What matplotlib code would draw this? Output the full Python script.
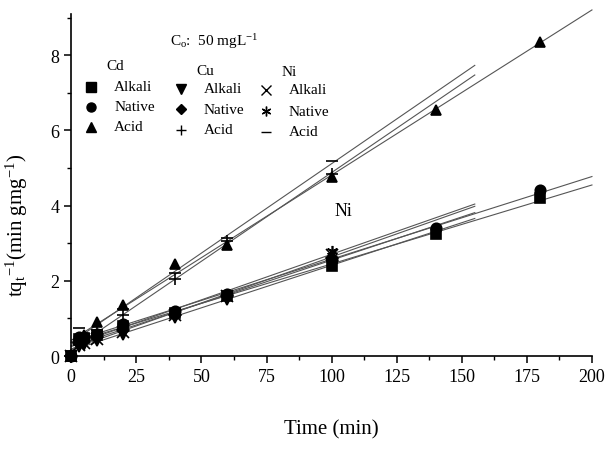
import numpy as np
import matplotlib
matplotlib.use("Agg")
import matplotlib.pyplot as plt
from matplotlib.ticker import MultipleLocator

plt.rcParams['font.family'] = ['Liberation Serif', 'DejaVu Serif']
plt.rcParams['mathtext.default'] = 'regular'

# time points (min)
t_cd = [0, 3, 5, 10, 20, 40, 60, 100, 140, 180]
t_cu_ni = [0, 3, 5, 10, 20, 40, 60, 100]

# t/qt values (min g mg^-1)
cd_alkali = [0, 0.45, 0.48, 0.55, 0.80, 1.15, 1.60, 2.40, 3.25, 4.20]
cd_native = [0, 0.50, 0.52, 0.60, 0.85, 1.20, 1.65, 2.55, 3.40, 4.42]
cd_acid = [0, 0.45, 0.55, 0.90, 1.35, 2.45, 2.95, 4.75, 6.55, 8.35]
cu_alkali = [0, 0.25, 0.30, 0.40, 0.55, 1.00, 1.50, 2.45]
cu_native = [0, 0.35, 0.40, 0.50, 0.70, 1.10, 1.60, 2.60]
cu_acid = [0, 0.30, 0.40, 0.62, 1.10, 2.05, 3.05, 4.85]
ni_alkali = [0, 0.30, 0.35, 0.45, 0.65, 1.10, 1.60, 2.70]
ni_native = [0, 0.40, 0.45, 0.55, 0.75, 1.15, 1.65, 2.80]
ni_acid = [0, 0.75, 0.60, 0.70, 1.25, 2.20, 3.15, 5.20]

series = [
    (t_cd, cd_alkali, 's', 200),
    (t_cd, cd_native, 'o', 200),
    (t_cd, cd_acid, '^', 200),
    (t_cu_ni, cu_alkali, 'v', 155),
    (t_cu_ni, cu_native, 'D', 155),
    (t_cu_ni, cu_acid, '+', 155),
    (t_cu_ni, ni_alkali, 'x', 155),
    (t_cu_ni, ni_native, (6, 2, 0), 155),
    (t_cu_ni, ni_acid, '_', 155),
]

fig = plt.figure(figsize=(6.09, 4.52), dpi=100)
ax = fig.add_axes([0.117, 0.21, 0.855, 0.757])

for t, y, m, tend in series:
    t = np.array(t, float)
    y = np.array(y, float)
    k, b = np.polyfit(t[1:], y[1:], 1)
    xx = np.array([0, tend])
    ax.plot(xx, k * xx + b, color='#555555', lw=0.8, zorder=1, clip_on=False)
    ms = 7.5 if m in ('s', 'o', '^', 'v') else (6.5 if m == 'D' else 8)
    ax.plot(t, y, linestyle='none', marker=m, color='black', ms=ms,
            mew=1.2, zorder=3, clip_on=False)

ax.set_xlim(0, 200)
ax.set_ylim(0, 9.1)
ax.xaxis.set_major_locator(MultipleLocator(25))
ax.xaxis.set_minor_locator(MultipleLocator(12.5))
ax.yaxis.set_major_locator(MultipleLocator(2))
ax.yaxis.set_minor_locator(MultipleLocator(1))
ax.spines['top'].set_visible(False)
ax.spines['right'].set_visible(False)
for s in ('left', 'bottom'):
    ax.spines[s].set_linewidth(1.2)
ax.tick_params(which='major', direction='out', length=5, width=1.1, labelsize=13)
ax.tick_params(which='minor', direction='out', length=3, width=1.0)

ax.set_xlabel('Time (min)', fontsize=15, labelpad=25)
ax.set_ylabel('tq$_t$$^{-1}$(min gmg$^{-1}$)', fontsize=15)
ax.yaxis.set_label_coords(-0.079, 0.386)

# custom legend (axes-fraction positions)
ax.text(0.19, 0.921, 'C$_o$:  50 mgL$^{-1}$', transform=ax.transAxes,
        fontsize=11, va='center')
groups = [
    ('Cd', 0.0384, 0.067, 0.848, [('s', 'Alkali'), ('o', 'Native'), ('^', 'Acid')],
     [0.7865, 0.728, 0.670]),
    ('Cu', 0.211, 0.240, 0.836, [('v', 'Alkali'), ('D', 'Native'), ('+', 'Acid')],
     [0.781, 0.722, 0.661]),
    ('Ni', 0.374, 0.403, 0.833, [('x', 'Alkali'), ((6, 2, 0), 'Native'), ('_', 'Acid')],
     [0.778, 0.716, 0.655]),
]
for title, xm, xt, yt, rows, ys in groups:
    ax.text(xt, yt, title, transform=ax.transAxes, fontsize=11, va='center')
    for (m, lab), yy in zip(rows, ys):
        ms = 6.5 if m in ('s', 'o', '^', 'v') else (5.5 if m == 'D' else 7)
        ax.plot([xm], [yy], marker=m, color='black', ms=ms, mew=1.0,
                transform=ax.transAxes, clip_on=False)
        ax.text(xm + 0.044, yy, lab, transform=ax.transAxes, fontsize=11,
                va='center')

ax.text(101, 3.87, 'Ni', fontsize=13, va='center')

fig.savefig('out.png', dpi=100)
